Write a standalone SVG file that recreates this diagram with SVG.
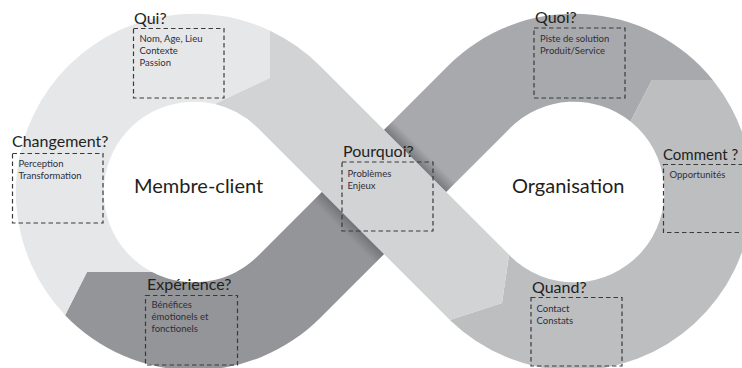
<svg xmlns="http://www.w3.org/2000/svg" width="742" height="368" viewBox="0 0 742 368">
<defs>
<linearGradient id="shU" gradientUnits="userSpaceOnUse" x1="415.11" y1="160.89" x2="424.3" y2="151.7">
<stop offset="0" stop-color="#000" stop-opacity="0.28"/>
<stop offset="1" stop-color="#000" stop-opacity="0"/>
</linearGradient>
<linearGradient id="shL" gradientUnits="userSpaceOnUse" x1="352.89" y1="223.11" x2="343.7" y2="232.3">
<stop offset="0" stop-color="#000" stop-opacity="0.22"/>
<stop offset="1" stop-color="#000" stop-opacity="0"/>
</linearGradient>
</defs>
<style>
.title{font-family:Lato,"Open Sans","Liberation Sans",sans-serif;font-size:16px;fill:#231f20}
.big{font-family:Lato,"Open Sans","Liberation Sans",sans-serif;font-size:20px;fill:#231f20}
.small{font-family:Lato,"Open Sans","Liberation Sans",sans-serif;font-size:9.5px;fill:#2e2e3c}
.box{fill:none;stroke:#3a3a3a;stroke-width:1.2;stroke-dasharray:4.5 3}
</style>
<rect width="742" height="368" fill="#ffffff"/>
<g id="loop">
<path id="seg5" fill="#939598" d="M352.89,160.89 L415.11,223.11 L320.11,317.89 A178.35,178.35 0 0 1 65.1,315.2 L87,272 L152,272 A90.35,90.35 0 0 0 257.89,255.89 Z"/>
<path id="seg4" fill="#a7a9ac" d="M630.5,121.5 A90.35,90.35 0 0 0 510.11,128.11 L415.11,223.11 L352.89,160.89 L447.89,65.89 A178.35,178.35 0 0 1 712.8,80 L652,80 Z"/>
<polygon fill="url(#shU)" points="384,129.78 446.22,192 455.4,182.8 393.2,120.6"/>
<polygon fill="url(#shL)" points="321.78,192 384,254.22 374.8,263.4 312.6,201.2"/>
<path id="seg1" fill="#e6e7e8" d="M270,30.7 A178.35,178.35 0 0 0 65.1,315.2 L87,272 L152,272 A90.35,90.35 0 0 1 214.8,104.1 L270,78 Z"/>
<path id="seg3" fill="#bcbec0" d="M449.8,320 L502,303 L509.05,254.83 L510.11,255.89 A90.35,90.35 0 1 0 630.5,121.5 L652,80 L712.8,80 A178.35,178.35 0 0 1 449.8,320 Z"/>
<path id="seg2" fill="#d1d3d4" d="M270,30.7 A178.35,178.35 0 0 1 320.11,65.89 L509.05,254.83 L502,303 L449.8,320 A178.35,178.35 0 0 1 447.89,317.89 L257.89,128.11 A90.35,90.35 0 0 0 214.8,104.1 L270,78 Z"/>
</g>
<g id="center-left"><text class="big" x="134" y="193">Membre-client</text></g>
<g id="center-right"><text class="big" x="512" y="193">Organisation</text></g>
<g id="qui">
<text class="title" x="134" y="24">Qui?</text>
<rect class="box" x="133.5" y="28.5" width="90.5" height="69.5"/>
<text class="small" x="139.5" y="42">Nom, Age, Lieu</text>
<text class="small" x="139.5" y="54">Contexte</text>
<text class="small" x="139.5" y="66">Passion</text>
</g>
<g id="changement">
<text class="title" x="12" y="147">Changement?</text>
<rect class="box" x="12.5" y="153.5" width="90.5" height="69.5"/>
<text class="small" x="18.5" y="167">Perception</text>
<text class="small" x="18.5" y="178.5">Transformation</text>
</g>
<g id="pourquoi">
<text class="title" x="343" y="157">Pourquoi?</text>
<rect class="box" x="342" y="162" width="91" height="69"/>
<text class="small" x="347.5" y="177">Problèmes</text>
<text class="small" x="347.5" y="189">Enjeux</text>
</g>
<g id="experience">
<text class="title" x="147" y="290">Expérience?</text>
<rect class="box" x="145.5" y="295.5" width="92" height="69.5"/>
<text class="small" x="151.5" y="308">Bénéfices</text>
<text class="small" x="151.5" y="320">émotionels et</text>
<text class="small" x="151.5" y="332">fonctionels</text>
</g>
<g id="quoi">
<text class="title" x="535" y="23">Quoi?</text>
<rect class="box" x="534" y="28" width="91" height="70"/>
<text class="small" x="540" y="42">Piste de solution</text>
<text class="small" x="540" y="54">Produit/Service</text>
</g>
<g id="comment">
<text class="title" x="663" y="160" style="font-size:15px">Comment ?</text>
<rect class="box" x="663.5" y="164.5" width="90" height="68"/>
<text class="small" x="669.5" y="178">Opportunités</text>
</g>
<g id="quand">
<text class="title" x="532" y="293">Quand?</text>
<rect class="box" x="531" y="297.5" width="91" height="68.5"/>
<text class="small" x="536.5" y="312">Contact</text>
<text class="small" x="536.5" y="324">Constats</text>
</g>
<g id="connectors"></g>
</svg>
